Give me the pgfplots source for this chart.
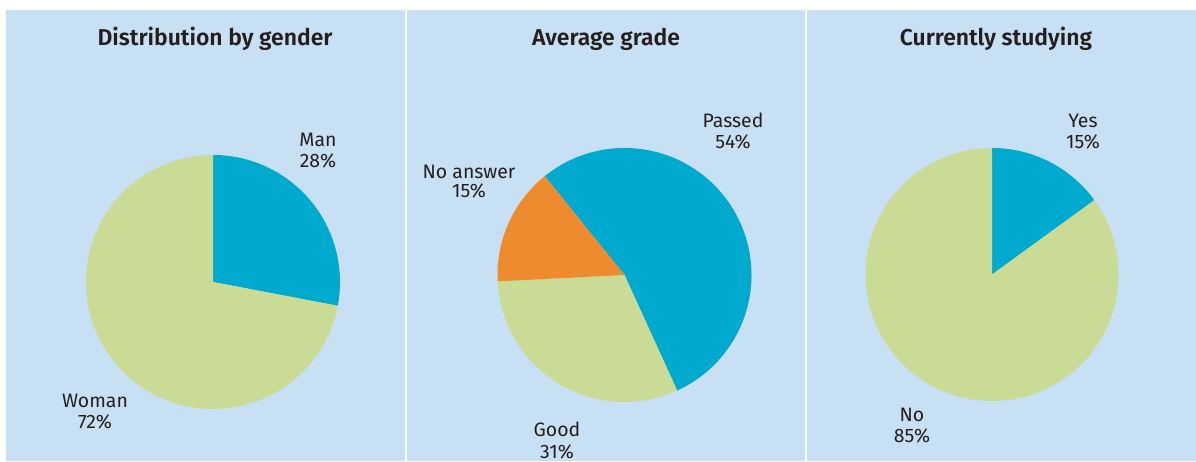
\documentclass[border=0pt]{standalone}
\usepackage{pgfplots}
\pgfplotsset{compat=1.18}
\usepackage{fontspec}
\setmainfont{Fira Sans}[BoldFont={Fira Sans SemiBold}]
\definecolor{bg}{RGB}{200,224,243}
\definecolor{cblue}{RGB}{0,169,206}
\definecolor{cgreen}{RGB}{201,219,149}
\definecolor{corange}{RGB}{238,139,46}
\definecolor{txt}{RGB}{35,31,32}

% pie: center x, center y, radius (bp), start angle, list of value/colour (clockwise)
\newcommand{\pie}[5]{%
  \pgfplotsextra{%
    \xdef\curang{#4}%
    \foreach \v/\c in {#5}{%
      \pgfmathsetmacro\endang{\curang-3.6*\v}%
      \fill[\c] (axis cs:#1,#2) -- ++(\curang:#3bp) arc[start angle=\curang, end angle=\endang, radius=#3bp] -- cycle;
      \xdef\curang{\endang}%
    }%
  }%
}
\pgfplotsset{panel/.style={
  scale only axis, axis lines=none, ticks=none,
  anchor=south west, height=451bp, ymin=1, ymax=452,
  clip=false}}
\tikzset{lab/.style={anchor=base, text=txt, font=\fontsize{19.5}{21}\selectfont, inner sep=0pt},
         ttl/.style={anchor=base, text=txt, font=\fontsize{23}{26}\selectfont\bfseries, inner sep=0pt}}

\begin{document}
\begin{tikzpicture}[x=1bp,y=1bp]
\path[use as bounding box] (0,0) rectangle (1196,462);
% Panel 1
\begin{axis}[panel, at={(6bp,1bp)}, width=399bp, xmin=6, xmax=405]
\fill[bg] (rel axis cs:0,0) rectangle (rel axis cs:1,1);
\pie{213}{180}{127}{90}{28/cblue, 72/cgreen}
\node[ttl] at (axis cs:215,416) {Distribution by gender};
\node[lab] at (axis cs:318,315) {Man};
\node[lab] at (axis cs:318,294) {28\%};
\node[lab] at (axis cs:95,54) {Woman};
\node[lab] at (axis cs:95,33) {72\%};
\end{axis}
% Panel 2
\begin{axis}[panel, at={(407bp,1bp)}, width=398bp, xmin=407, xmax=805]
\fill[bg] (rel axis cs:0,0) rectangle (rel axis cs:1,1);
\pie{624.5}{187}{127}{128.9}{54/cblue, 31/cgreen, 15/corange}
\node[ttl] at (axis cs:606,416) {Average grade};
\node[lab] at (axis cs:733,334) {Passed};
\node[lab] at (axis cs:733,313) {54\%};
\node[lab] at (axis cs:469,283) {No answer};
\node[lab] at (axis cs:469,264) {15\%};
\node[lab] at (axis cs:557,25) {Good};
\node[lab] at (axis cs:557,3) {31\%};
\end{axis}
% Panel 3
\begin{axis}[panel, at={(807bp,1bp)}, width=389bp, xmin=807, xmax=1196]
\fill[bg] (rel axis cs:0,0) rectangle (rel axis cs:1,1);
\pie{992}{187.5}{126.5}{90}{15/cblue, 85/cgreen}
\node[ttl] at (axis cs:996,416) {Currently studying};
\node[lab] at (axis cs:1083,334) {Yes};
\node[lab] at (axis cs:1083,313) {15\%};
\node[lab] at (axis cs:912,40) {No};
\node[lab] at (axis cs:912,19) {85\%};
\end{axis}
\end{tikzpicture}
\end{document}
